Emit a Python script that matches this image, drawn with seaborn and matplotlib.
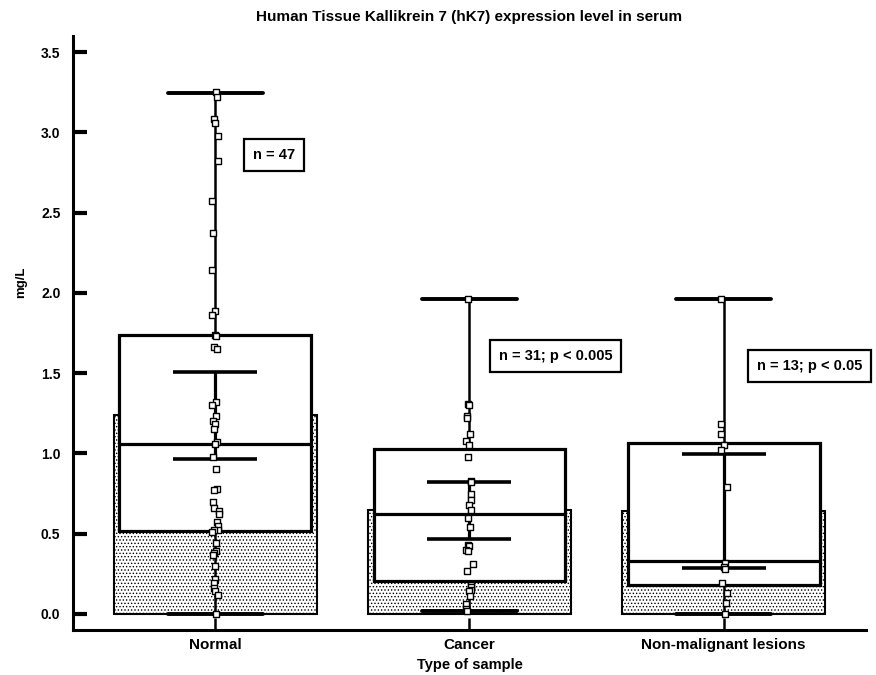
import numpy as np
import pandas as pd
import matplotlib
matplotlib.use('Agg')
import matplotlib.pyplot as plt
import seaborn as sns

np.random.seed(3)

# group names
groups = ['Normal', 'Cancer', 'Non-malignant lesions']

# summary values (mg/L)
means = [1.24, 0.645, 0.64]
ci_low = [0.965, 0.467, 0.287]
ci_high = [1.51, 0.822, 0.997]
q1 = [0.517, 0.206, 0.18]
medians = [1.06, 0.62, 0.33]
q3 = [1.74, 1.03, 1.065]
v_min = [0.0, 0.02, 0.0]
v_max = [3.245, 1.963, 1.963]

# individual measurements
normal_vals = [3.25, 3.22, 3.08, 3.06, 2.98, 2.82, 2.57, 2.37, 2.14, 1.89, 1.86,
               1.74, 1.73, 1.66, 1.65, 1.32, 1.30, 1.23, 1.20, 1.18, 1.15, 1.07,
               1.06, 0.98, 0.90, 0.78, 0.77, 0.70, 0.66, 0.64, 0.62, 0.57, 0.55,
               0.52, 0.52, 0.51, 0.44, 0.39, 0.38, 0.37, 0.30, 0.22, 0.19, 0.16,
               0.14, 0.12, 0.00]
cancer_vals = [1.96, 1.31, 1.30, 1.23, 1.22, 1.12, 1.08, 1.05, 0.98, 0.83, 0.82,
               0.75, 0.71, 0.68, 0.65, 0.60, 0.54, 0.43, 0.42, 0.40, 0.39, 0.31,
               0.27, 0.18, 0.17, 0.15, 0.14, 0.11, 0.06, 0.03, 0.02]
nonmal_vals = [1.96, 1.18, 1.12, 1.05, 1.02, 0.79, 0.32, 0.29, 0.28, 0.19, 0.13,
               0.07, 0.00]

annotations = ['n = 47', 'n = 31; p < 0.005', 'n = 13; p < 0.05']

pts = pd.DataFrame({
    'group': ['Normal'] * len(normal_vals) + ['Cancer'] * len(cancer_vals)
             + ['Non-malignant lesions'] * len(nonmal_vals),
    'value': normal_vals + cancer_vals + nonmal_vals,
})

sns.set_style('ticks')
plt.rcParams['font.family'] = ['Liberation Sans', 'DejaVu Sans']
plt.rcParams['font.weight'] = 'bold'
for k in ['text.color', 'axes.labelcolor', 'xtick.color', 'ytick.color', 'axes.edgecolor']:
    plt.rcParams[k] = 'black'
plt.rcParams['hatch.linewidth'] = 0.6
plt.rcParams['hatch.color'] = '#444444'

fig = plt.figure(figsize=(8.76, 6.75), dpi=100)
ax = fig.add_axes([0.0833, 0.0667, 0.9053, 0.88])

# stippled mean bars
sns.barplot(x=groups, y=means, color='white', edgecolor='black', linewidth=1.5,
            width=0.8, errorbar=None, hatch='.....', ax=ax, zorder=1)

# boxes with min-max whiskers
stats = []
for i in range(len(groups)):
    stats.append({'med': medians[i], 'q1': q1[i], 'q3': q3[i],
                  'whislo': v_min[i], 'whishi': v_max[i], 'fliers': []})
ax.bxp(stats, positions=range(len(groups)), widths=0.755, capwidths=0.375,
       showfliers=False, patch_artist=True, manage_ticks=False,
       boxprops=dict(facecolor='white', edgecolor='black', linewidth=2.3),
       medianprops=dict(color='black', linewidth=2.3),
       whiskerprops=dict(color='black', linewidth=1.8),
       capprops=dict(color='black', linewidth=2.8), zorder=2)

# confidence interval of the mean
m = np.array(means)
ax.errorbar(x=range(len(groups)), y=m,
            yerr=[m - np.array(ci_low), np.array(ci_high) - m],
            fmt='none', ecolor='black', elinewidth=2.3, capsize=30, capthick=2.6,
            zorder=3)

sns.stripplot(data=pts, x='group', y='value', order=groups, marker='s', size=5,
              color='white', edgecolor='black', linewidth=1, jitter=0.015,
              ax=ax, zorder=5)

# n / p annotations
ann_x = [0.232, 1.339, 2.339]
ann_y = [2.86, 1.607, 1.545]
for i, txt in enumerate(annotations):
    ax.text(ann_x[i], ann_y[i], txt, ha='center', va='center', fontsize=10.5,
            fontweight='bold', zorder=6,
            bbox=dict(boxstyle='square,pad=0.6', fc='white', ec='black', lw=1.6))

ax.set_xlim(-0.56, 2.56)
ax.set_ylim(-0.1, 3.6)
ax.set_yticks([0.0, 0.5, 1.0, 1.5, 2.0, 2.5, 3.0, 3.5])
ax.set_yticklabels(['0.0', '0.5', '1.0', '1.5', '2.0', '2.5', '3.0', '3.5'],
                   fontsize=10, fontweight='bold')
ax.set_xticks(range(len(groups)))
ax.set_xticklabels(groups, fontsize=11, fontweight='bold')
ax.tick_params(axis='y', direction='in', length=10, width=3, pad=9)
ax.tick_params(axis='x', direction='in', length=8.5, width=1.8, pad=6)

sns.despine(ax=ax)
for s in ['left', 'bottom']:
    ax.spines[s].set_linewidth(2.2)

ax.set_xlabel('Type of sample', fontsize=10.5, fontweight='bold')
ax.xaxis.set_label_coords(0.5, -0.047)
ax.set_ylabel('mg/L', fontsize=9.5, fontweight='bold')
ax.yaxis.set_label_coords(-0.058, 0.586)

fig.text(0.536, 1 - 17 / 675, 'Human Tissue Kallikrein 7 (hK7) expression level in serum',
         ha='center', va='center', fontsize=11, fontweight='bold')

fig.savefig('out.png', dpi=100)
